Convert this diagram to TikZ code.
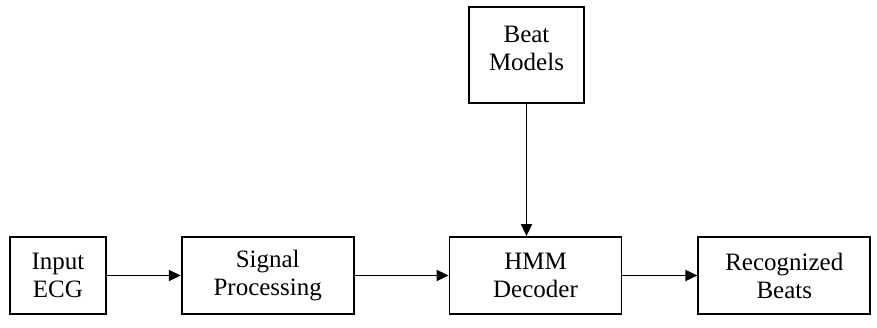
\documentclass[tikz,border=0pt]{standalone}
\usepackage{fontspec}
\setmainfont{Liberation Serif}
\usetikzlibrary{positioning}
\usetikzlibrary{arrows.meta}
\tikzstyle{block}=[rectangle, draw, black, line width=1.8pt, minimum height=77pt, inner sep=0pt, align=center, font=\fontsize{25}{28}\selectfont]
\tikzstyle{link}=[line width=1.8pt, -{Triangle[length=12pt, width=11pt]}]

\begin{document}
\begin{tikzpicture}[x=1pt, y=-1pt]
    \useasboundingbox (0,0) rectangle (877,328);
    % chain of processing blocks
    \node[block, minimum width=96pt, anchor=west] (in) at (9, 275.5) {Input\\ECG};
    \node[block, minimum width=172pt, right=74pt of in] (sig) {Signal\\Processing};
    \node[block, minimum width=172pt, right=94pt of sig] (hmm) {HMM\\Decoder};
    \node[block, minimum width=172pt, right=75pt of hmm] (rec) {Recognized\\Beats};
    % model input on top
    \node[block, minimum width=115pt, minimum height=96pt, text depth=14pt] (beat) at (526.5, 55) {Beat\\Models};
    \draw[link] (in) -- (sig);
    \draw[link] (sig) -- (hmm);
    \draw[link] (hmm) -- (rec);
    \draw[link] (beat.south) -- (beat.south |- hmm.north);
\end{tikzpicture}
\end{document}
